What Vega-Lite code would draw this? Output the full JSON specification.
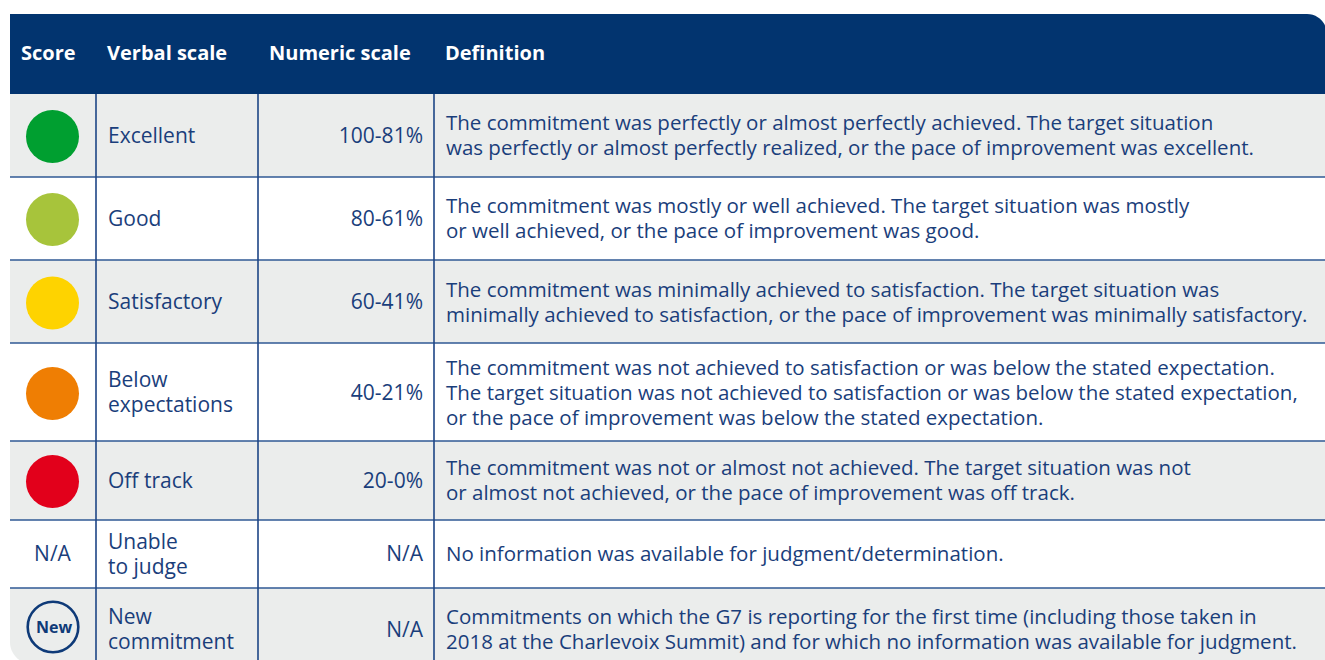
{
  "$schema": "https://vega.github.io/schema/vega-lite/v6.json",
  "width": 1325,
  "height": 660,
  "padding": 0,
  "autosize": {"type": "none"},
  "background": "white",
  "config": {"view": {"stroke": null}, "text": {"font": "Open Sans"}},
  "datasets": {
    "rows": [
      {"order": 1, "score": "Excellent", "verbal": "Excellent", "numeric": "100-81%", "top": 94, "mid": 136.5, "bottom": 177,
       "definition": "The commitment was perfectly or almost perfectly achieved. The target situation\nwas perfectly or almost perfectly realized, or the pace of improvement was excellent."},
      {"order": 2, "score": "Good", "verbal": "Good", "numeric": "80-61%", "top": 177, "mid": 219.5, "bottom": 260,
       "definition": "The commitment was mostly or well achieved. The target situation was mostly\nor well achieved, or the pace of improvement was good."},
      {"order": 3, "score": "Satisfactory", "verbal": "Satisfactory", "numeric": "60-41%", "top": 260, "mid": 303, "bottom": 343,
       "definition": "The commitment was minimally achieved to satisfaction. The target situation was\nminimally achieved to satisfaction, or the pace of improvement was minimally satisfactory."},
      {"order": 4, "score": "Below expectations", "verbal": "Below\nexpectations", "numeric": "40-21%", "top": 343, "mid": 393.5, "bottom": 441,
       "definition": "The commitment was not achieved to satisfaction or was below the stated expectation.\nThe target situation was not achieved to satisfaction or was below the stated expectation,\nor the pace of improvement was below the stated expectation."},
      {"order": 5, "score": "Off track", "verbal": "Off track", "numeric": "20-0%", "top": 441, "mid": 481.5, "bottom": 520,
       "definition": "The commitment was not or almost not achieved. The target situation was not\nor almost not achieved, or the pace of improvement was off track."},
      {"order": 6, "score": "N/A", "verbal": "Unable\nto judge", "numeric": "N/A", "top": 520, "mid": 555, "bottom": 588,
       "definition": "No information was available for judgment/determination."},
      {"order": 7, "score": "New", "verbal": "New\ncommitment", "numeric": "N/A", "top": 588, "mid": 630.5, "bottom": 664,
       "definition": "Commitments on which the G7 is reporting for the first time (including those taken in\n2018 at the Charlevoix Summit) and for which no information was available for judgment."}
    ],
    "cols": [
      {"name": "Score", "left": 10},
      {"name": "Verbal scale", "left": 96},
      {"name": "Numeric scale", "left": 258},
      {"name": "Definition", "left": 434}
    ]
  },
  "layer": [
    {
      "data": {"values": [{"part": "header"}]},
      "mark": {"type": "rect", "color": "#02346f", "cornerRadiusTopRight": 20},
      "encoding": {
        "x": {"datum": 10, "type": "quantitative", "scale": {"domain": [0, 1325], "nice": false, "zero": false}, "axis": null},
        "x2": {"datum": 1327},
        "y": {"datum": 14, "type": "quantitative", "scale": {"domain": [0, 660], "reverse": true, "nice": false, "zero": false}, "axis": null},
        "y2": {"datum": 94}
      }
    },
    {
      "data": {"name": "rows"},
      "transform": [{"filter": "datum.order % 2 == 1 && datum.order < 7"}],
      "mark": {"type": "rect", "color": "#ebedec"},
      "encoding": {
        "x": {"datum": 10, "type": "quantitative", "scale": {"domain": [0, 1325], "nice": false, "zero": false}, "axis": null},
        "x2": {"datum": 1325},
        "y": {"field": "top", "type": "quantitative", "scale": {"domain": [0, 660], "reverse": true, "nice": false, "zero": false}, "axis": null},
        "y2": {"field": "bottom"}
      }
    },
    {
      "data": {"name": "rows"},
      "transform": [{"filter": "datum.order == 7"}],
      "mark": {"type": "rect", "color": "#ebedec", "cornerRadiusBottomLeft": 22},
      "encoding": {
        "x": {"datum": 10, "type": "quantitative", "scale": {"domain": [0, 1325], "nice": false, "zero": false}, "axis": null},
        "x2": {"datum": 1325},
        "y": {"field": "top", "type": "quantitative", "scale": {"domain": [0, 660], "reverse": true, "nice": false, "zero": false}, "axis": null},
        "y2": {"field": "bottom"}
      }
    },
    {
      "data": {"name": "rows"},
      "transform": [{"filter": "datum.order > 1"}],
      "mark": {"type": "rule", "color": "#2f5995", "strokeWidth": 1.6},
      "encoding": {
        "x": {"datum": 10, "type": "quantitative", "scale": {"domain": [0, 1325], "nice": false, "zero": false}, "axis": null},
        "x2": {"datum": 1325},
        "y": {"field": "top", "type": "quantitative", "scale": {"domain": [0, 660], "reverse": true, "nice": false, "zero": false}, "axis": null}
      }
    },
    {
      "data": {"name": "cols"},
      "transform": [{"filter": "datum.left > 10"}],
      "mark": {"type": "rule", "color": "#1d4586", "strokeWidth": 1.6},
      "encoding": {
        "x": {"field": "left", "type": "quantitative", "scale": {"domain": [0, 1325], "nice": false, "zero": false}, "axis": null},
        "y": {"datum": 94, "type": "quantitative", "scale": {"domain": [0, 660], "reverse": true, "nice": false, "zero": false}, "axis": null},
        "y2": {"datum": 662}
      }
    },
    {
      "data": {"name": "cols"},
      "mark": {"type": "text", "align": "left", "baseline": "middle", "dx": 11, "fontSize": 20, "fontWeight": "bold", "color": "white"},
      "encoding": {
        "x": {"field": "left", "type": "quantitative", "scale": {"domain": [0, 1325], "nice": false, "zero": false}, "axis": null},
        "y": {"datum": 54, "type": "quantitative", "scale": {"domain": [0, 660], "reverse": true, "nice": false, "zero": false}, "axis": null},
        "text": {"field": "name"}
      }
    },
    {
      "data": {"name": "rows"},
      "transform": [{"filter": "datum.order <= 5"}],
      "mark": {"type": "point", "shape": "circle", "filled": true, "size": 2809, "opacity": 1, "dy": -1},
      "encoding": {
        "x": {"datum": 52.5, "type": "quantitative", "scale": {"domain": [0, 1325], "nice": false, "zero": false}, "axis": null},
        "y": {"field": "mid", "type": "quantitative", "scale": {"domain": [0, 660], "reverse": true, "nice": false, "zero": false}, "axis": null},
        "color": {"field": "score", "type": "nominal", "legend": null,
                  "scale": {"domain": ["Excellent", "Good", "Satisfactory", "Below expectations", "Off track"],
                            "range": ["#009f30", "#a7c43b", "#fed300", "#ef7e03", "#e2001b"]}}
      }
    },
    {
      "data": {"name": "rows"},
      "transform": [{"filter": "datum.score == 'New'"}],
      "mark": {"type": "point", "shape": "circle", "filled": false, "size": 2560, "stroke": "#0e3a78", "strokeWidth": 2.6, "opacity": 1},
      "encoding": {
        "x": {"datum": 53, "type": "quantitative", "scale": {"domain": [0, 1325], "nice": false, "zero": false}, "axis": null},
        "y": {"datum": 627, "type": "quantitative", "scale": {"domain": [0, 660], "reverse": true, "nice": false, "zero": false}, "axis": null}
      }
    },
    {
      "data": {"name": "rows"},
      "transform": [{"filter": "datum.score == 'New'"}],
      "mark": {"type": "text", "align": "center", "baseline": "middle", "fontSize": 16, "fontWeight": "bold", "color": "#0e3a78", "letterSpacing": -0.8},
      "encoding": {
        "x": {"datum": 54, "type": "quantitative", "scale": {"domain": [0, 1325], "nice": false, "zero": false}, "axis": null},
        "y": {"datum": 628, "type": "quantitative", "scale": {"domain": [0, 660], "reverse": true, "nice": false, "zero": false}, "axis": null},
        "text": {"field": "score"}
      }
    },
    {
      "data": {"name": "rows"},
      "transform": [{"filter": "datum.score == 'N/A'"}],
      "mark": {"type": "text", "align": "center", "baseline": "middle", "fontSize": 21, "color": "#1a3e7b"},
      "encoding": {
        "x": {"datum": 52.5, "type": "quantitative", "scale": {"domain": [0, 1325], "nice": false, "zero": false}, "axis": null},
        "y": {"field": "mid", "type": "quantitative", "scale": {"domain": [0, 660], "reverse": true, "nice": false, "zero": false}, "axis": null},
        "text": {"field": "score"}
      }
    },
    {
      "data": {"name": "rows"},
      "transform": [{"filter": "indexof(datum.verbal, '\\n') < 0"}],
      "mark": {"type": "text", "align": "left", "baseline": "middle", "dx": 12, "fontSize": 21, "lineHeight": 25, "lineBreak": "\n", "color": "#1a3e7b"},
      "encoding": {
        "x": {"datum": 96, "type": "quantitative", "scale": {"domain": [0, 1325], "nice": false, "zero": false}, "axis": null},
        "y": {"field": "mid", "type": "quantitative", "scale": {"domain": [0, 660], "reverse": true, "nice": false, "zero": false}, "axis": null},
        "text": {"field": "verbal"}
      }
    },
    {
      "data": {"name": "rows"},
      "transform": [{"filter": "indexof(datum.verbal, '\\n') >= 0"}],
      "mark": {"type": "text", "align": "left", "baseline": "middle", "dx": 12, "dy": -12.5, "fontSize": 21, "lineHeight": 25, "lineBreak": "\n", "color": "#1a3e7b"},
      "encoding": {
        "x": {"datum": 96, "type": "quantitative", "scale": {"domain": [0, 1325], "nice": false, "zero": false}, "axis": null},
        "y": {"field": "mid", "type": "quantitative", "scale": {"domain": [0, 660], "reverse": true, "nice": false, "zero": false}, "axis": null},
        "text": {"field": "verbal"}
      }
    },
    {
      "data": {"name": "rows"},
      "mark": {"type": "text", "align": "right", "baseline": "middle", "dx": -11, "fontSize": 21, "color": "#1a3e7b"},
      "encoding": {
        "x": {"datum": 434, "type": "quantitative", "scale": {"domain": [0, 1325], "nice": false, "zero": false}, "axis": null},
        "y": {"field": "mid", "type": "quantitative", "scale": {"domain": [0, 660], "reverse": true, "nice": false, "zero": false}, "axis": null},
        "text": {"field": "numeric"}
      }
    },
    {
      "data": {"name": "rows"},
      "transform": [{"filter": "length(split(datum.definition, '\\n')) == 1"}],
      "mark": {"type": "text", "align": "left", "baseline": "middle", "dx": 12, "fontSize": 20.5, "lineHeight": 25, "lineBreak": "\n", "color": "#1a3e7b"},
      "encoding": {
        "x": {"datum": 434, "type": "quantitative", "scale": {"domain": [0, 1325], "nice": false, "zero": false}, "axis": null},
        "y": {"field": "mid", "type": "quantitative", "scale": {"domain": [0, 660], "reverse": true, "nice": false, "zero": false}, "axis": null},
        "text": {"field": "definition"}
      }
    },
    {
      "data": {"name": "rows"},
      "transform": [{"filter": "length(split(datum.definition, '\\n')) == 2"}],
      "mark": {"type": "text", "align": "left", "baseline": "middle", "dx": 12, "dy": -12.5, "fontSize": 20.5, "lineHeight": 25, "lineBreak": "\n", "color": "#1a3e7b"},
      "encoding": {
        "x": {"datum": 434, "type": "quantitative", "scale": {"domain": [0, 1325], "nice": false, "zero": false}, "axis": null},
        "y": {"field": "mid", "type": "quantitative", "scale": {"domain": [0, 660], "reverse": true, "nice": false, "zero": false}, "axis": null},
        "text": {"field": "definition"}
      }
    },
    {
      "data": {"name": "rows"},
      "transform": [{"filter": "length(split(datum.definition, '\\n')) == 3"}],
      "mark": {"type": "text", "align": "left", "baseline": "middle", "dx": 12, "dy": -25, "fontSize": 20.5, "lineHeight": 25, "lineBreak": "\n", "color": "#1a3e7b"},
      "encoding": {
        "x": {"datum": 434, "type": "quantitative", "scale": {"domain": [0, 1325], "nice": false, "zero": false}, "axis": null},
        "y": {"field": "mid", "type": "quantitative", "scale": {"domain": [0, 660], "reverse": true, "nice": false, "zero": false}, "axis": null},
        "text": {"field": "definition"}
      }
    }
  ]
}
